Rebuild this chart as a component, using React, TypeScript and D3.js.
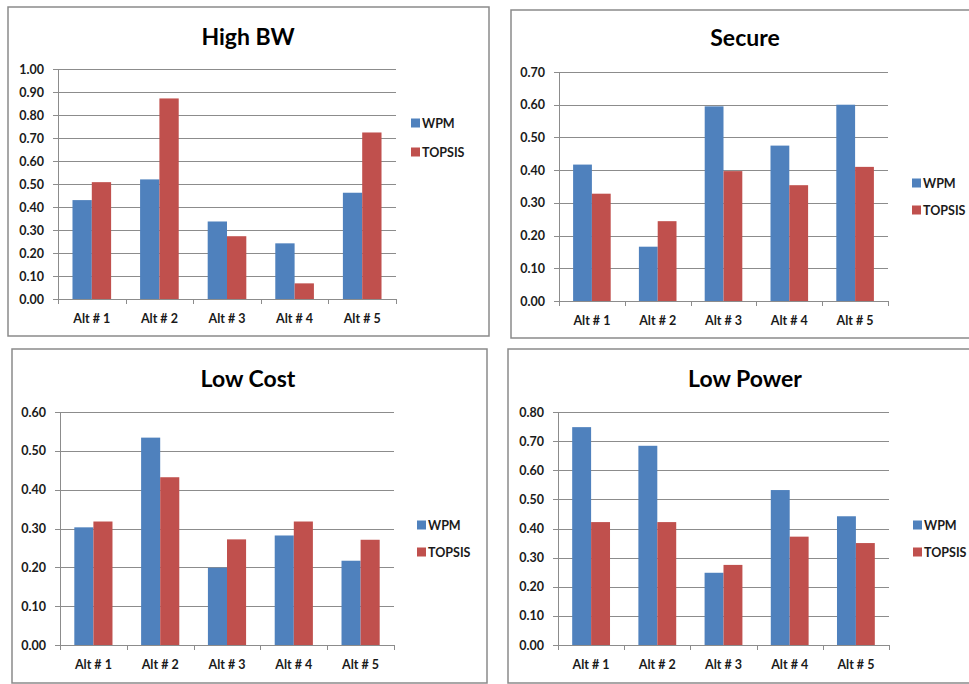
import React, { useEffect, useRef } from "react";
import * as d3 from "d3";

const categories = ["Alt # 1", "Alt # 2", "Alt # 3", "Alt # 4", "Alt # 5"];
const seriesNames = ["WPM", "TOPSIS"];

const highBwWpm = [0.43, 0.52, 0.337, 0.242, 0.462];
const highBwTopsis = [0.508, 0.872, 0.273, 0.068, 0.724];

const secureWpm = [0.417, 0.166, 0.595, 0.475, 0.6];
const secureTopsis = [0.328, 0.244, 0.397, 0.354, 0.41];

const lowCostWpm = [0.303, 0.534, 0.199, 0.282, 0.217];
const lowCostTopsis = [0.318, 0.432, 0.272, 0.318, 0.271];

const lowPowerWpm = [0.748, 0.684, 0.248, 0.532, 0.442];
const lowPowerTopsis = [0.422, 0.422, 0.275, 0.372, 0.35];

const titles = ["High BW", "Secure", "Low Cost", "Low Power"];
const yMaxes = [1.0, 0.7, 0.6, 0.8];

const colors = ["#4F81BD", "#C0504D"];
const FONT = "Lato, 'Open Sans', sans-serif";

// panel placement on the page
const panels = [
  { box: [8, 7, 481, 329], plot: { l: 58, r: 396, t: 69, b: 299 }, titleX: 248, titleY: 45, legX: 411, legY: [123, 152], labY: 318 },
  { box: [511, 10, 462, 328], plot: { l: 559, r: 888, t: 72, b: 301 }, titleX: 745, titleY: 46, legX: 912, legY: [183, 210], labY: 320 },
  { box: [12, 349, 475, 334], plot: { l: 60, r: 394, t: 412, b: 645 }, titleX: 248, titleY: 387, legX: 417, legY: [525, 552], labY: 664 },
  { box: [508, 349, 462, 334], plot: { l: 558, r: 889, t: 412, b: 645 }, titleX: 745, titleY: 387, legX: 913, legY: [525, 552], labY: 664 },
];

const data = [
  [highBwWpm, highBwTopsis],
  [secureWpm, secureTopsis],
  [lowCostWpm, lowCostTopsis],
  [lowPowerWpm, lowPowerTopsis],
];

const App = () => {
  const svgRef = useRef<SVGSVGElement>(null);

  useEffect(() => {
    const svg = d3.select(svgRef.current);
    svg.selectAll("*").remove();

    panels.forEach((p, i) => {
      const g = svg.append("g");
      const [bx, by, bw, bh] = p.box;
      g.append("rect")
        .attr("x", bx).attr("y", by).attr("width", bw).attr("height", bh)
        .attr("fill", "#fff").attr("stroke", "#8a8a8a").attr("stroke-width", 1.5);

      const yMax = yMaxes[i];
      const y = d3.scaleLinear().domain([0, yMax]).range([p.plot.b, p.plot.t]);
      const x = d3.scaleBand().domain(categories).range([p.plot.l, p.plot.r])
        .paddingInner(1.5 / 3.5).paddingOuter(0.75 / 3.5);
      const xs = d3.scaleBand().domain(seriesNames).range([0, x.bandwidth()]);

      const ticks = d3.range(0, Math.round(yMax * 10) + 1).map(k => k / 10);

      // gridlines
      g.append("g").selectAll("line").data(ticks).join("line")
        .attr("x1", p.plot.l - 5).attr("x2", p.plot.r)
        .attr("y1", d => Math.round(y(d)) + 0.5).attr("y2", d => Math.round(y(d)) + 0.5)
        .attr("stroke", "#8c8c8c").attr("stroke-width", 1);

      g.append("g").selectAll("text").data(ticks).join("text")
        .attr("x", p.plot.l - 14).attr("y", d => y(d))
        .attr("text-anchor", "end").attr("dominant-baseline", "central")
        .attr("font-family", FONT).attr("font-size", 12.5).attr("font-weight", 700)
        .attr("fill", "#1a1a1a")
        .text(d => d.toFixed(2));

      // bars
      seriesNames.forEach((s, si) => {
        g.append("g").selectAll("rect").data(data[i][si]).join("rect")
          .attr("x", (d, ci) => (x(categories[ci]) ?? 0) + (xs(s) ?? 0))
          .attr("width", xs.bandwidth())
          .attr("y", d => y(d))
          .attr("height", d => y(0) - y(d))
          .attr("fill", colors[si]);
      });

      // axes lines
      g.append("line")
        .attr("x1", p.plot.l + 0.5).attr("x2", p.plot.l + 0.5)
        .attr("y1", p.plot.t).attr("y2", p.plot.b + 5)
        .attr("stroke", "#8c8c8c");
      const step = (p.plot.r - p.plot.l) / categories.length;
      g.append("g").selectAll("line").data(d3.range(1, categories.length + 1)).join("line")
        .attr("x1", k => Math.round(p.plot.l + k * step) + 0.5)
        .attr("x2", k => Math.round(p.plot.l + k * step) + 0.5)
        .attr("y1", p.plot.b).attr("y2", p.plot.b + 5)
        .attr("stroke", "#8c8c8c");

      // category labels
      g.append("g").selectAll("text").data(categories).join("text")
        .attr("x", d => (x(d) ?? 0) + x.bandwidth() / 2)
        .attr("y", p.labY)
        .attr("text-anchor", "middle").attr("dominant-baseline", "central")
        .attr("font-family", FONT).attr("font-size", 12.5).attr("font-weight", 700)
        .attr("fill", "#1a1a1a")
        .text(d => d);

      // title
      g.append("text")
        .attr("x", p.titleX).attr("y", p.titleY)
        .attr("text-anchor", "middle")
        .attr("font-family", FONT).attr("font-size", 23).attr("font-weight", 700)
        .attr("fill", "#000")
        .text(titles[i]);

      // legend
      seriesNames.forEach((s, si) => {
        g.append("rect")
          .attr("x", p.legX).attr("y", p.legY[si] - 4.5)
          .attr("width", 9).attr("height", 9)
          .attr("fill", colors[si]);
        g.append("text")
          .attr("x", p.legX + 11).attr("y", p.legY[si])
          .attr("dominant-baseline", "central")
          .attr("font-family", FONT).attr("font-size", 12.5).attr("font-weight", 700)
          .attr("fill", "#1a1a1a")
          .text(s);
      });
    });
  }, []);

  return (
    <svg ref={svgRef} width={969} height={684}
      style={{ position: "absolute", left: 0, top: 0, background: "#fff" }} />
  );
};

export default App;
